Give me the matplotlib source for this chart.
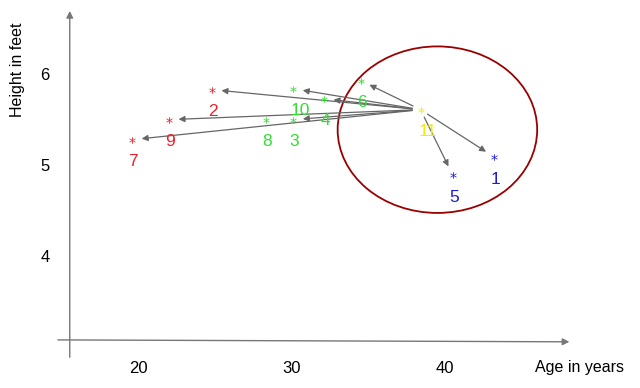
import numpy as np
import matplotlib.pyplot as plt
from matplotlib.patches import Ellipse

# datos: edad (anos) y altura (pies)
ids = ['1', '2', '3', '4', '5', '6', '7', '8', '9', '10', '11']
age = [43.2, 24.8, 30.1, 32.1, 40.5, 34.5, 19.6, 28.3, 22.0, 30.1, 38.4]
height = [5.11, 5.85, 5.52, 5.75, 4.91, 5.95, 5.30, 5.52, 5.52, 5.86, 5.63]
colors = ['#1c1ccc', '#e8202a', '#33dd33', '#33dd33', '#1c1ccc', '#33dd33',
          '#e8202a', '#33dd33', '#e8202a', '#33dd33', '#f2ee00']
# vecinos de la muestra 11
neighbors = ['7', '9', '2', '10', '4', '3', '6', '5', '1']

x_ticks = [20, 30, 40]
y_ticks = [4, 5, 6]

plt.rcParams['font.family'] = ['Liberation Sans', 'DejaVu Sans']

fig = plt.figure(figsize=(6.4, 3.88), dpi=100)
ax = fig.add_axes([0, 0, 1, 1])
ax.set_xlim(11.0, 52.7)
ax.set_ylim(2.571, 6.835)
ax.axis('off')

# ejes dibujados como flechas
ax.annotate('', xy=(0.109, 0.979), xytext=(0.109, 0.072), xycoords='axes fraction',
            arrowprops=dict(arrowstyle='-|>', color='#777777', lw=1, mutation_scale=10))
ax.annotate('', xy=(0.894, 0.119), xytext=(0.086, 0.124), xycoords='axes fraction',
            arrowprops=dict(arrowstyle='-|>', color='#777777', lw=1, mutation_scale=10))

for t in x_ticks:
    ax.text(t, 0.049, str(t), transform=ax.get_xaxis_transform(),
            ha='center', va='center', fontsize=12)
for t in y_ticks:
    ax.text(0.07, t, str(t), transform=ax.get_yaxis_transform(),
            ha='center', va='center', fontsize=12)

ax.text(0.027, 0.82, 'Height in feet', transform=ax.transAxes, rotation=90,
        ha='center', va='center', fontsize=11.5)
ax.text(0.905, 0.054, 'Age in years', transform=ax.transAxes,
        ha='center', va='center', fontsize=11.5)

# flechas desde la muestra 11
i11 = ids.index('11')
for n in neighbors:
    j = ids.index(n)
    ax.annotate('', xy=(age[j], height[j]), xytext=(age[i11], height[i11]),
                arrowprops=dict(arrowstyle='-|>', color='#666666', lw=0.9,
                                mutation_scale=9, shrinkA=6, shrinkB=7))

for i, c, x, y in zip(ids, colors, age, height):
    ax.scatter(x, y, marker='$*$', s=22, color=c, linewidths=0, zorder=3)
    dx = 5 if i in ('10', '11') else 1
    ax.annotate(i, (x, y), xytext=(dx, -16), textcoords='offset points',
                ha='center', va='center', color=c, fontsize=12.5)

# elipse alrededor de los vecinos cercanos
ax.add_patch(Ellipse((39.5, 5.41), 13.0, 1.83, fill=False,
                     edgecolor='#990000', lw=1.3))

fig.savefig('out.png', dpi=100)
